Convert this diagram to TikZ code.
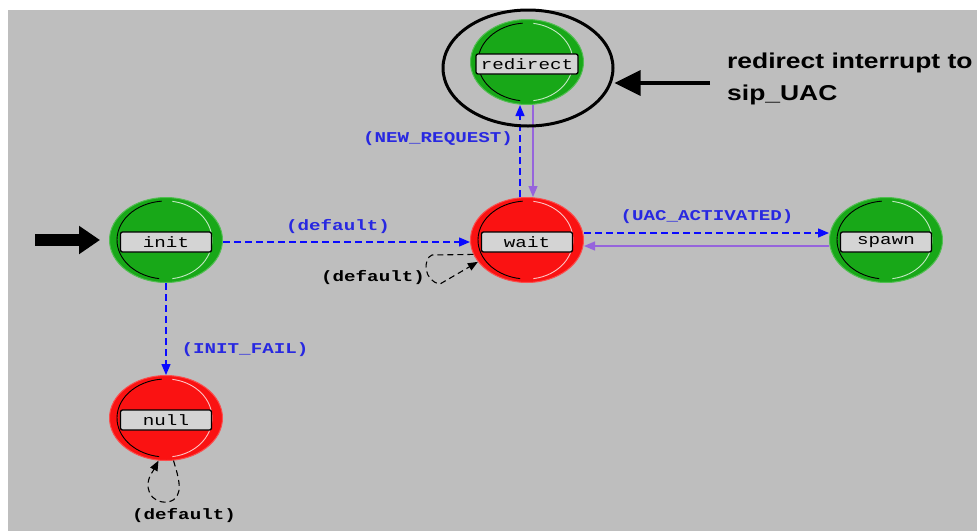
\documentclass[tikz,border=0pt]{standalone}
\usepackage{fontspec}
\usetikzlibrary{arrows.meta,shapes.geometric,calc}

\newfontfamily\fsmfont[FakeStretch=1.28]{Liberation Mono}
\newfontfamily\notefont[FakeStretch=1.23]{Liberation Sans}

\definecolor{panelgrey}{RGB}{190,190,190}
\definecolor{stategreen}{RGB}{24,168,24}
\definecolor{statered}{RGB}{250,18,18}
\definecolor{trblue}{RGB}{10,10,255}
\definecolor{lblblue}{RGB}{40,40,225}
\definecolor{retpurple}{RGB}{150,100,220}
\definecolor{boxgrey}{RGB}{212,212,212}

\tikzset{
  statebody/.style={ellipse, minimum width=113pt, minimum height=85pt,
    inner sep=0pt, line width=1pt},
  statelabel/.style={rectangle, rounded corners=2pt, draw=black, line width=1.3pt,
    fill=boxgrey, minimum height=20pt, inner sep=0pt,
    font=\fsmfont\fontsize{15}{15}\selectfont},
  trans/.style={draw=trblue, line width=1.4pt, dash pattern=on 7pt off 4pt,
    -{Triangle[length=11pt,width=9pt]}},
  ret/.style={draw=retpurple, line width=1.2pt, -{Triangle[length=11pt,width=9pt]}},
  selfloop/.style={draw=black, line width=1.1pt, dash pattern=on 6pt off 4pt,
    -{Triangle[length=10pt,width=8pt]}},
  trlabel/.style={text=lblblue, inner sep=0pt,
    font=\fsmfont\bfseries\fontsize{15}{15}\selectfont},
  looplabel/.style={trlabel, text=black},
  notetext/.style={anchor=base west, inner sep=0pt,
    font=\notefont\bfseries\fontsize{21.5}{32}\selectfont},
}

% state: name, centre, colour, caption, caption box width
\newcommand{\fsmstate}[5]{%
  \node[statebody, fill=#3, draw=#3!75!white] (#1) at (#2) {};
  \draw[black, line width=0.9pt] (#1.center) ++(95:49pt and 39pt)
    arc[start angle=95, end angle=262, x radius=49pt, y radius=39pt];
  \draw[white!75!#3, line width=0.9pt] (#1.center) ++(-82:46pt and 39pt)
    arc[start angle=-82, end angle=82, x radius=46pt, y radius=39pt];
  \node[statelabel, minimum width=#5] (#1-box) at ([yshift=-2pt]#1.center) {#4};
}

\begin{document}
\begin{tikzpicture}[x=1pt,y=-1pt]
\useasboundingbox (0,0) rectangle (977,531);
\fill[white] (0,0) rectangle (977,531);
\fill[panelgrey] (8,10) rectangle (977,531);

% states
\fsmstate{redirect}{527,62}{stategreen}{redirect}{102pt}
\fsmstate{init}{166,240}{stategreen}{init}{91pt}
\fsmstate{wait}{527,240}{statered}{wait}{91pt}
\fsmstate{spawn}{886,240}{stategreen}{spawn}{91pt}
\fsmstate{null}{166,418}{statered}{null}{91pt}

% transitions
\draw[trans] ([yshift=-2pt]init.east) -- ([yshift=-2pt]wait.west);
\draw[trans] ([yshift=7pt]wait.east) -- ([yshift=7pt]spawn.west);
\draw[ret] ([yshift=-6pt]spawn.west) -- ([yshift=-6pt]wait.east);
\draw[trans] ([xshift=-7pt]wait.north) -- ([xshift=-7pt]redirect.south);
\draw[ret] ([xshift=6pt]redirect.south) -- ([xshift=6pt]wait.north);
\draw[trans] (init.south) -- (null.north);

% self loops
\draw[selfloop] (wait.195) -- (432,255) .. controls (423,258) and (423,281) .. (440,284)
  -- (wait.204);
\draw[selfloop] (null.-80) .. controls (178,476) and (186,498) .. (168,502)
  .. controls (150,504) and (142,486) .. (153,471) -- (null.-100);

% transition labels
\node[trlabel] (l-default) at (338,227) {(default)};
\node[looplabel] (l-waitloop) at (373,278) {(default)};
\node[trlabel] (l-newreq) at (438,139) {(NEW\_REQUEST)};
\node[trlabel] (l-uac) at (707,217) {(UAC\_ACTIVATED)};
\node[trlabel] (l-initfail) at (245,350) {(INIT\_FAIL)};
\node[looplabel] (l-nullloop) at (184,516) {(default)};

% entry arrow
\coordinate (entry) at (35,240);
\draw[line width=12pt, -{Triangle[length=21pt,width=27pt]}] (entry) -- ([xshift=-9pt]init.west);

% highlighted state with note
\node[ellipse, draw=black, line width=3pt, minimum width=170pt, minimum height=116pt,
  inner sep=0pt] (focus) at (528,68) {};
\coordinate (notestart) at (710,83);
\draw[line width=3.5pt, -{Triangle[length=26pt,width=25pt]}] (notestart) -- ([yshift=-15pt]focus.east);
\node[notetext] (note1) at (727,68) {redirect interrupt to};
\node[notetext] (note2) at (727,100) {sip\_UAC};
\end{tikzpicture}
\end{document}
